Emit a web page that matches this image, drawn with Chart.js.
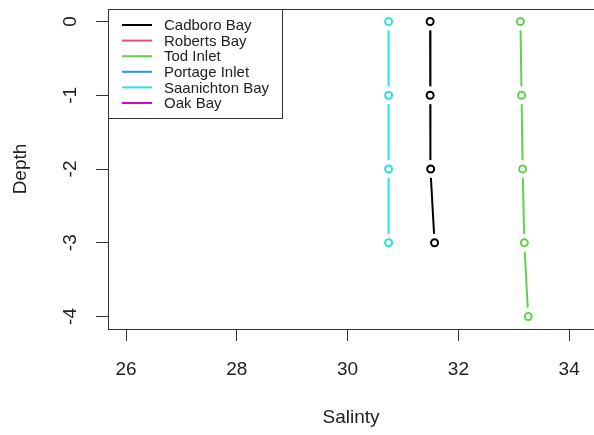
<!DOCTYPE html>
<html lang="en">
<head>
    <meta charset="UTF-8">
    <title>Salinity by Depth</title>

    <!-- Load Chart.js -->
    <script src="https://cdn.jsdelivr.net/npm/chart.js@4.4.1/dist/chart.umd.min.js"></script>

    <style>
        body { margin: 0; background: #fff; }
        .chart-container {
            width: 594px;
            height: 435px;
            position: relative;
        }
    </style>
</head>
<body>
    <div class="chart-container">
        <canvas id="myChart"></canvas>
    </div>

    <script>
        // Depths sampled (0 = surface)
        const depths = [0, -1, -2, -3, -4];

        // Salinity per site, one value per depth
        const cadboroBay = [31.49, 31.49, 31.50, 31.57];
        const todInlet = [33.12, 33.14, 33.16, 33.19, 33.26];
        const saanichtonBay = [30.74, 30.74, 30.74, 30.74];

        // Legend entries (all sites, even those without readings here)
        const siteNames = ['Cadboro Bay', 'Roberts Bay', 'Tod Inlet', 'Portage Inlet', 'Saanichton Bay', 'Oak Bay'];
        const siteColors = ['#000000', '#DF536B', '#61D04F', '#2297E6', '#28E2E5', '#CD0BBC'];

        const xTicks = [26, 28, 30, 32, 34];
        const yTicks = [0, -1, -2, -3, -4];

        const fontFamily = '"Liberation Sans", Arial, Helvetica, sans-serif';
        const inkColor = '#222';
        const axisColor = '#333';

        const series = [
            { values: cadboroBay, color: siteColors[0] },
            { values: todInlet, color: siteColors[2] },
            { values: saanichtonBay, color: siteColors[4] }
        ];

        // R style "type = b": line, white disc to open a gap, then the open circle
        const datasets = [];
        series.forEach(s => {
            const pts = s.values.map((v, i) => ({ x: v, y: depths[i] }));
            datasets.push({
                data: pts, showLine: true, borderColor: s.color, borderWidth: 2,
                pointRadius: 0, order: 3
            });
            datasets.push({
                data: pts, showLine: false, pointRadius: 9, pointBorderWidth: 0,
                pointBackgroundColor: '#fff', order: 2
            });
            datasets.push({
                data: pts, showLine: false, pointRadius: 3.5, pointBorderWidth: 2,
                pointBorderColor: s.color, pointBackgroundColor: '#fff', order: 1
            });
        });

        // Top edge of the plot box plus the boxed key in the top-left corner
        const boxAndKey = {
            id: 'boxAndKey',
            afterDraw(chart) {
                const { ctx, chartArea: a } = chart;
                ctx.save();
                ctx.strokeStyle = axisColor;
                ctx.lineWidth = 1;
                ctx.beginPath();
                ctx.moveTo(a.left, a.top + 0.5);
                ctx.lineTo(a.right, a.top + 0.5);
                ctx.stroke();

                const kx = a.left, ky = a.top, kw = 174, kh = 109;
                ctx.strokeRect(kx + 0.5, ky + 0.5, kw, kh);
                ctx.font = '15px ' + fontFamily;
                ctx.textBaseline = 'middle';
                siteNames.forEach((name, i) => {
                    const y = ky + 16 + i * 15.6;
                    ctx.strokeStyle = siteColors[i];
                    ctx.lineWidth = 2;
                    ctx.beginPath();
                    ctx.moveTo(kx + 14, y);
                    ctx.lineTo(kx + 44, y);
                    ctx.stroke();
                    ctx.fillStyle = inkColor;
                    ctx.fillText(name, kx + 56, y + 1);
                });
                ctx.restore();
            }
        };

        Chart.defaults.font.family = fontFamily;
        Chart.defaults.color = inkColor;

        const ctx = document.getElementById('myChart').getContext('2d');
        const myChart = new Chart(ctx, {
            type: 'scatter',
            data: { datasets: datasets },
            plugins: [boxAndKey],
            options: {
                responsive: true,
                maintainAspectRatio: false,
                animation: false,
                layout: { autoPadding: false, padding: { top: 9, left: 0, right: 0, bottom: 0 } },
                plugins: {
                    legend: { display: false },
                    tooltip: { enabled: false }
                },
                scales: {
                    x: {
                        type: 'linear',
                        min: 25.675,
                        max: 34.448,
                        afterBuildTicks: scale => { scale.ticks = xTicks.map(v => ({ value: v })); },
                        afterFit: scale => {
                            scale.height = 106;
                            scale.paddingLeft = 0;
                            scale.paddingRight = 0;
                        },
                        grid: { drawOnChartArea: false, drawTicks: true, tickLength: 12, color: axisColor },
                        border: { display: true, color: axisColor, width: 1 },
                        ticks: {
                            padding: 17,
                            font: { size: 19 },
                            callback: v => String(v)
                        },
                        title: {
                            display: true,
                            text: 'Salinty',
                            font: { size: 19 },
                            padding: { top: 0, bottom: 5.8 }
                        }
                    },
                    y: {
                        type: 'linear',
                        min: -4.17,
                        max: 0.17,
                        afterBuildTicks: scale => { scale.ticks = yTicks.map(v => ({ value: v })); },
                        afterFit: scale => {
                            scale.width = 108;
                            scale.paddingTop = 0;
                            scale.paddingBottom = 0;
                        },
                        grid: { drawOnChartArea: false, drawTicks: true, tickLength: 12, color: axisColor },
                        border: { display: true, color: axisColor, width: 1 },
                        ticks: {
                            minRotation: 90,
                            maxRotation: 90,
                            crossAlign: 'center',
                            padding: 17,
                            font: { size: 19 },
                            callback: v => String(v)
                        },
                        title: {
                            display: true,
                            text: 'Depth',
                            font: { size: 19 },
                            padding: { top: 9.6, bottom: 0 }
                        }
                    }
                }
            }
        });
    </script>
</body>
</html>
